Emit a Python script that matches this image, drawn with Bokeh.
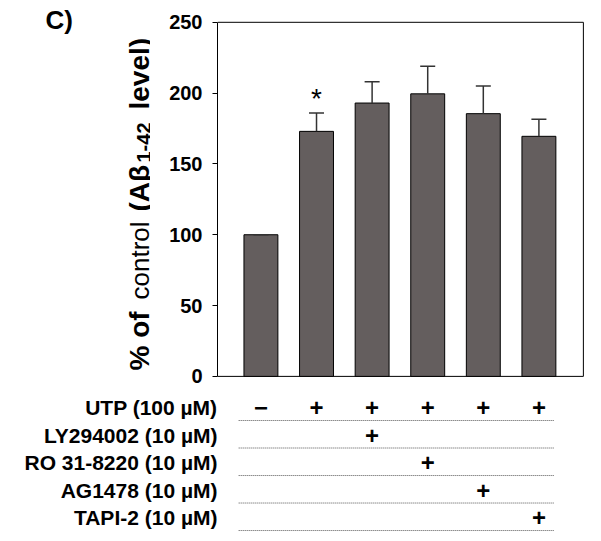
import math
from bokeh.plotting import figure
from bokeh.models import Range1d, FixedTicker, ColumnDataSource
from bokeh.layouts import column, row
from bokeh.embed import file_html
from bokeh.resources import INLINE
from bokeh.core.properties import value

# ---------------- data ----------------
conditions = ["Control", "UTP", "UTP+LY294002", "UTP+RO 31-8220", "UTP+AG1478", "UTP+TAPI-2"]
means = [100, 173, 193, 199.5, 185.5, 169.5]
errors = [0, 13, 15, 19.5, 19.5, 12]
significance = ["", "*", "", "", "", ""]
y_ticks = [0, 50, 100, 150, 200, 250]
y_max = 250

row_labels = ["UTP (100 \u00b5M)", "LY294002 (10 \u00b5M)", "RO 31-8220 (10 \u00b5M)",
              "AG1478 (10 \u00b5M)", "TAPI-2 (10 \u00b5M)"]
row_utp = ["\u2212", "+", "+", "+", "+", "+"]
row_ly = ["", "", "+", "", "", ""]
row_ro = ["", "", "", "+", "", ""]
row_ag = ["", "", "", "", "+", ""]
row_tapi = ["", "", "", "", "", "+"]
table_rows = [row_utp, row_ly, row_ro, row_ag, row_tapi]

panel_label = "C)"
title_texts = ["% of ", "control", "(A\u03b2", "1-42", "level)"]

FONT = "Liberation Sans"
xs = list(range(1, len(conditions) + 1))

TOP_H = 388
LEFT_W = 150
TABLE_H = 144
BOTTOM_BORDER = 10
FRAME_H = TOP_H - BOTTOM_BORDER

X_START, X_BORDER, X_END = 0.219, len(conditions) + 0.8, len(conditions) + 0.82

# ---------------- left strip with panel label and y title ----------------
t = figure(width=LEFT_W, height=TOP_H, x_range=Range1d(0, LEFT_W), y_range=Range1d(0, FRAME_H),
           title=None, output_backend="svg", toolbar_location=None,
           min_border_left=0, min_border_right=0, min_border_top=0,
           min_border_bottom=BOTTOM_BORDER)
t.axis.visible = False
t.grid.visible = False
t.outline_line_color = None

t.text(x=[45], y=[359], text=[panel_label], text_align="left", text_baseline="alphabetic",
       text_font=value(FONT), text_font_style="bold", text_font_size="26px", text_color="black")

title_x = [139, 139, 139, 143, 139]
title_y = [8, 79, 167, 216, 269]
title_style = ["bold", "normal", "bold", "bold", "bold"]
title_size = ["28px", "26px", "28px", "20px", "28px"]
for txt, lx, ly, st, sz in zip(title_texts, title_x, title_y, title_style, title_size):
    t.text(x=[lx], y=[ly], text=[txt], angle=math.pi / 2, text_align="left",
           text_baseline="alphabetic", text_font=value(FONT), text_font_style=st,
           text_font_size=sz, text_color="black")

# ---------------- top chart ----------------
p = figure(width=585 - LEFT_W, height=TOP_H, x_range=Range1d(X_START, X_END),
           y_range=Range1d(-1.5, 265.4),
           title=None, output_backend="svg", toolbar_location=None,
           min_border_left=67, min_border_right=1, min_border_top=0,
           min_border_bottom=BOTTOM_BORDER)
p.xaxis.visible = False
p.grid.visible = False
p.outline_line_color = None

ya = p.yaxis[0]
ya.bounds = (0, y_max)
ya.ticker = FixedTicker(ticks=y_ticks)
ya.major_label_text_font = FONT
ya.major_label_text_font_style = "bold"
ya.major_label_text_font_size = "20px"
ya.major_label_text_color = "black"
ya.major_tick_out = 5
ya.major_tick_in = 0
ya.minor_tick_line_color = None
ya.axis_line_color = "black"
ya.major_tick_line_color = "black"
ya.major_label_standoff = 10

# plot-area box (bottom, top, right)
p.segment(x0=[X_START, X_START, X_BORDER], y0=[0, y_max, 0],
          x1=[X_BORDER, X_BORDER, X_BORDER], y1=[0, y_max, y_max],
          line_color="black", line_width=1)

src = ColumnDataSource(dict(
    x=xs, top=means,
    err_top=[m + e for m, e in zip(means, errors)],
    cap_l=[x - 0.135 for x in xs], cap_r=[x + 0.135 for x in xs],
    sig=significance,
))
p.vbar(x="x", top="top", bottom=0, width=0.61, source=src,
       fill_color="#645e5e", line_color="black", line_width=1)
p.segment(x0="x", y0="top", x1="x", y1="err_top", source=src,
          line_color="#333333", line_width=1.5)
p.segment(x0="cap_l", y0="err_top", x1="cap_r", y1="err_top", source=src,
          line_color="#333333", line_width=1.5)
p.text(x="x", y="err_top", text="sig", source=src, text_align="center",
       text_baseline="bottom", text_font=value(FONT), text_font_size="28px",
       y_offset=1, text_color="black")

# ---------------- treatment table ----------------
q = figure(width=585, height=TABLE_H, x_range=p.x_range, y_range=Range1d(4.545, -0.691),
           title=None, output_backend="svg", toolbar_location=None,
           min_border_left=217, min_border_right=1, min_border_top=0, min_border_bottom=0)
q.xaxis.visible = False
q.grid.visible = False
q.outline_line_color = None
qa = q.yaxis[0]
qa.ticker = FixedTicker(ticks=list(range(len(row_labels))))
qa.major_label_overrides = {i: lab for i, lab in enumerate(row_labels)}
qa.axis_line_color = None
qa.major_tick_line_color = None
qa.minor_tick_line_color = None
qa.major_tick_out = 0
qa.major_tick_in = 0
qa.major_label_text_font = FONT
qa.major_label_text_font_style = "bold"
qa.major_label_text_font_size = "21px"
qa.major_label_text_color = "black"
qa.major_label_standoff = 0

tx, ty, tt = [], [], []
for r, rw in enumerate(table_rows):
    for i, s in enumerate(rw):
        tx.append(xs[i]); ty.append(r); tt.append(s)
q.text(x=tx, y=ty, text=tt, text_align="center", text_baseline="middle",
       text_font=value(FONT), text_font_style="bold", text_font_size="24px",
       text_color="black")

line_y = [r + 0.473 for r in range(len(row_labels))]
q.segment(x0=[xs[0] - 0.4] * len(line_y), y0=line_y,
          x1=[xs[-1] + 0.27] * len(line_y), y1=line_y,
          line_color="#555555", line_width=1, line_dash="1 1")

layout = column(row(t, p, spacing=0), q, spacing=0)
open("out.html", "w").write(file_html(layout, INLINE))
